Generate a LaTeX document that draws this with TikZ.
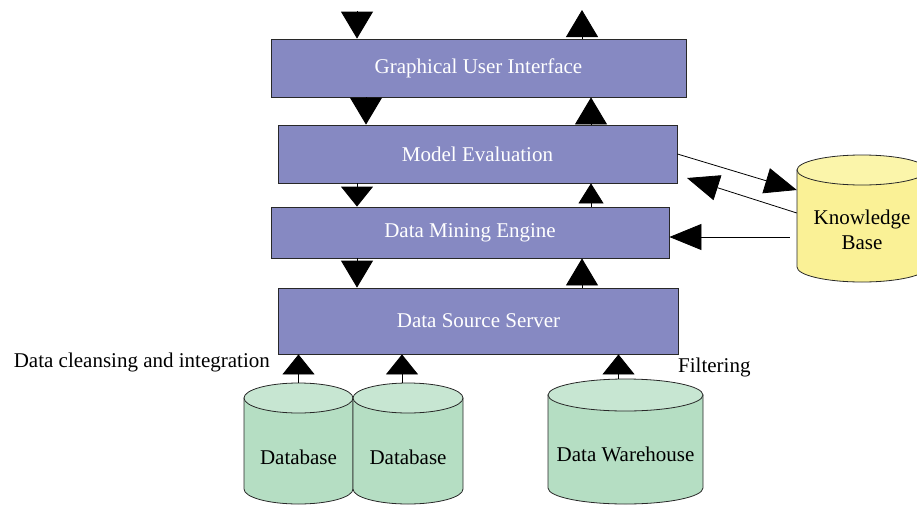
\documentclass[tikz,border=0pt]{standalone}
\usepackage{fontspec}
\setmainfont{Liberation Serif}
\usetikzlibrary{arrows.meta,fit}
\definecolor{boxblue}{RGB}{134,137,194}
\definecolor{kbbody}{RGB}{250,241,150}
\definecolor{kbtop}{RGB}{251,245,170}
\definecolor{dbbody}{RGB}{181,222,195}
\definecolor{dbtop}{RGB}{199,230,210}
\definecolor{edge}{RGB}{40,40,40}
\newcommand\mycyl[8]{%
  \pgfmathsetmacro\mycx{(#2+#3)/2}%
  \pgfmathsetmacro\myrx{(#3-#2)/2}%
  \pgfmathsetmacro\mycya{#4+#6}%
  \pgfmathsetmacro\mycyb{#5-#6}%
  \draw[cylline, fill=#7] (#2,\mycya) -- (#2,\mycyb) arc[start angle=180,end angle=0,x radius=\myrx,y radius=#6] -- (#3,\mycya) -- cycle;
  \draw[cylline, fill=#8] (\mycx,\mycya) ellipse[x radius=\myrx,y radius=#6];
  \coordinate (#1-nw) at (#2,#4);
  \coordinate (#1-se) at (#3,#5);
  \node[fit=(#1-nw)(#1-se), inner sep=0pt] (#1) {};
}
\tikzset{
  box/.style={draw=edge, line width=0.8pt, fill=boxblue, text=white, font=\fontsize{21}{25}\selectfont, inner sep=0pt},
  cylline/.style={draw=edge, line width=0.8pt},
  lbl/.style={font=\fontsize{21}{25}\selectfont, text=black, inner sep=0pt},
  arrA/.style={line width=0.8pt, -{Triangle[length=27pt,width=32pt]}},
  arrS/.style={line width=0.8pt, -{Triangle[length=20pt,width=32pt]}},
  arrN/.style={line width=0.8pt, -{Triangle[length=20pt,width=25pt]}},
  arrK/.style={line width=0.8pt, -{Triangle[length=32pt,width=26pt]}},
}
\begin{document}
\begin{tikzpicture}[x=1pt,y=-1pt]
\useasboundingbox (0,0) rectangle (917,506);
\clip (0,0) rectangle (917,506);
% boxes
\node[box, minimum width=415pt, minimum height=58pt] (gui) at (478.5,68) {Graphical User Interface};
\node[box, minimum width=399pt, minimum height=58pt] (me) at (477.5,154) {Model Evaluation};
\node[box, minimum width=398pt, minimum height=51pt] (dme) at (470,232.5) {Data Mining Engine};
\node[box, minimum width=400pt, minimum height=66pt] (dss) at (478.5,321) {Data Source Server};
% cylinders
\mycyl{kb}{797}{927}{155}{282}{15}{kbbody}{kbtop}
\node[lbl, align=center] (kbtext) at (862,229.5) {Knowledge\\[0pt]Base};
\mycyl{db1}{244}{353}{383}{504}{15}{dbbody}{dbtop}
\mycyl{db2}{353}{463}{383}{504}{15}{dbbody}{dbtop}
\mycyl{dw}{548}{703}{379}{504}{16}{dbbody}{dbtop}
\node[lbl] (db1text) at (298.5,457) {Database};
\node[lbl] (db2text) at (408,457) {Database};
\node[lbl] (dwtext) at (625.5,454) {Data Warehouse};
% side labels
\node[lbl, anchor=east] (clean) at (270,362) {Data cleansing and integration};
\node[lbl, anchor=west] (filt) at (678,367) {Filtering};
% vertical arrows
\coordinate (topin) at (357,11);
\coordinate (topout) at (582,10);
\draw[arrA] (topin) -- (gui.north -| topin);
\draw[arrA] (gui.north -| topout) -- (topout);
\draw[arrA] (gui.south -| 366,0) -- (me.north -| 366,0);
\draw[arrA] (me.north -| 591,0) -- (gui.south -| 591,0);
\draw[arrS] (me.south -| 357,0) -- (dme.north -| 357,0);
\draw[arrN] (dme.north -| 591,0) -- (me.south -| 591,0);
\draw[arrA] (dme.south -| 357,0) -- (dss.north -| 357,0);
\draw[arrA] (dss.north -| 582,0) -- (dme.south -| 582,0);
% bottom arrows
\draw[arrS] (db1.north) -- (dss.south -| db1.north);
\coordinate (db2a) at ([xshift=-6pt]db2.north);
\draw[arrS] (db2a) -- (dss.south -| db2a);
\coordinate (dwa) at ([xshift=-7pt]dw.north);
\draw[arrS] (dwa) -- (dss.south -| dwa);
% knowledge base arrows
\draw[arrK] (me.east) -- ([yshift=28.5pt]kb.west);
\coordinate (kbret) at (687,178);
\draw[arrK] ([yshift=5.5pt]kb.west) -- (kbret);
\coordinate (kb3) at ([xshift=-7pt,yshift=-18.5pt]kb.west);
\draw[arrK] (kb3) -- (kb3 -| dme.east);
\end{tikzpicture}
\end{document}
